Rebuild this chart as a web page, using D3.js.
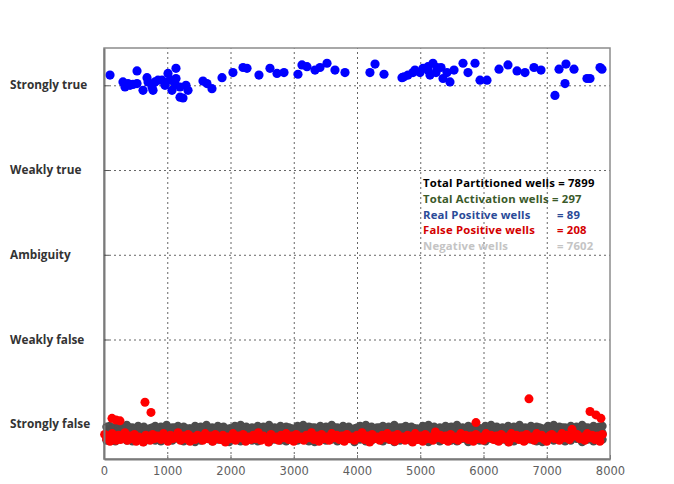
<!DOCTYPE html>
<html><head><meta charset="utf-8">
<script src="https://cdn.jsdelivr.net/npm/d3@7"></script>
<style>
body{margin:0;background:#fff;}
svg{display:block;}
</style></head>
<body>
<svg id="chart" width="674" height="484"></svg>
<script>
// ---- data ----
const levelLabels = ["Strongly false","Weakly false","Ambiguity","Weakly true","Strongly true"];
const levelValues = [0,1,2,3,4];
const xTicks = [0,1000,2000,3000,4000,5000,6000,7000,8000];

const legendLines = [
  ["Total Partitioned wells = 7899", null, "#000000"],
  ["Total Activation wells = 297", null, "#3b5a2a"],
  ["Real Positive wells", "= 89", "#2a4b98"],
  ["False Positive wells", "= 208", "#d40000"],
  ["Negative wells", "= 7602", "#c4c4c4"]
];

// Real positive wells (blue): well index, score
const posX = [95,300,332,379,411,458,522,522,617,680,696,759,775,806,854,917,964,1012,1043,1075,1138,1138,1122,1202,1202,1249,1296,1328,1565,1628,1707,1866,2039,2198,2261,2450,2624,2735,2846,3067,3130,3209,3336,3415,3526,3652,3810,4205,4285,4427,4711,4743,4806,4885,4917,4996,5044,5122,5122,5154,5201,5249,5265,5328,5360,5423,5470,5534,5676,5755,5866,5945,6055,6245,6387,6530,6656,6798,6909,7130,7194,7304,7289,7431,7636,7684,7842,7873];
const posY = [4.12,4.04,3.98,4.02,4.00,4.01,4.02,4.17,3.94,4.09,4.04,3.98,3.94,4.04,4.06,4.06,4.00,4.14,4.06,3.94,4.20,4.08,4.02,3.98,3.86,3.85,4.00,3.94,4.05,4.02,3.96,4.09,4.15,4.21,4.20,4.12,4.20,4.14,4.15,4.13,4.24,4.22,4.18,4.21,4.26,4.18,4.15,4.15,4.25,4.13,4.09,4.10,4.12,4.15,4.18,4.15,4.20,4.18,4.22,4.12,4.26,4.15,4.21,4.21,4.08,4.15,4.04,4.18,4.26,4.15,4.26,4.06,4.06,4.19,4.24,4.17,4.15,4.21,4.18,3.88,4.19,4.25,4.02,4.19,4.08,4.08,4.21,4.19];

// False positive wells (red): "well,score"
const falsePos = ("126,.07 190,.05 253,.04 648,.26 743,.14 5881,.02 6719,.30 7684,.15 7778,.11 7857,.07 " +
"10,-.12 40,-.17 70,-.14 95,-.20 130,-.11 160,-.16 190,-.19 230,-.13 260,-.18 300,-.15 330,-.10 370,-.19 400,-.14 440,-.17 480,-.12 510,-.20 550,-.15 590,-.18 620,-.21 660,-.13 700,-.16 730,-.19 770,-.12 800,-.17 850,-.14 900,-.18 940,-.11 980,-.16 1010,-.20 1050,-.13 1090,-.17 1130,-.15 1170,-.10 1210,-.19 1250,-.14 1290,-.17 1330,-.12 1360,-.20 1400,-.15 1440,-.18 1480,-.13 1520,-.16 1560,-.19 1600,-.11 1640,-.17 1680,-.14 1720,-.20 1760,-.12 1800,-.16 1840,-.18 1880,-.13 1920,-.21 1960,-.15 2000,-.17 2040,-.11 2080,-.19 2120,-.14 2160,-.16 2200,-.12 2240,-.20 2280,-.15 2320,-.18 2360,-.13 2400,-.17 2440,-.10 2480,-.19 2520,-.14 2560,-.16 2600,-.21 2640,-.12 2680,-.17 2720,-.15 2760,-.19 2800,-.13 2840,-.16 2880,-.11 2920,-.18 2960,-.14 3000,-.20 3040,-.12 3080,-.17 3120,-.15 3160,-.19 3200,-.13 3240,-.16 3280,-.10 3320,-.18 3360,-.14 3400,-.20 3440,-.12 3480,-.17 3520,-.15 3560,-.19 3600,-.11 3640,-.16 3680,-.13 3720,-.18 3760,-.14 3800,-.20 3840,-.12 3880,-.17 3920,-.15 3960,-.19 4000,-.13 4040,-.16 4080,-.10 4120,-.18 4160,-.14 4200,-.21 4240,-.12 4280,-.17 4320,-.15 4360,-.19 4400,-.13 4440,-.16 4480,-.11 4520,-.18 4560,-.14 4600,-.20 4640,-.12 4680,-.17 4720,-.15 4760,-.19 4800,-.13 4840,-.16 4880,-.21 4920,-.11 4960,-.18 5000,-.14 5040,-.20 5080,-.12 5120,-.17 5160,-.15 5200,-.19 5240,-.09 5280,-.16 5320,-.13 5360,-.18 5400,-.14 5440,-.20 5480,-.12 5520,-.17 5560,-.15 5600,-.19 5640,-.11 5680,-.16 5720,-.13 5760,-.18 5800,-.14 5840,-.20 5880,-.12 5920,-.17 5960,-.15 6000,-.19 6040,-.11 6080,-.16 6120,-.13 6160,-.18 6200,-.14 6240,-.20 6280,-.12 6320,-.17 6360,-.15 6400,-.21 6440,-.11 6480,-.16 6520,-.13 6560,-.18 6600,-.14 6640,-.20 6680,-.12 6720,-.17 6760,-.15 6800,-.19 6840,-.11 6880,-.16 6920,-.13 6960,-.18 7000,-.20 7040,-.14 7080,-.12 7120,-.17 7160,-.15 7200,-.19 7240,-.11 7280,-.16 7320,-.13 7360,-.18 7400,-.06 7440,-.14 7480,-.12 7520,-.17 7560,-.15 7600,-.19 7640,-.11 7680,-.16 7720,-.13 7760,-.18 7800,-.14 7840,-.20 7880,-.12")
  .split(" ").map(s => s.split(",").map(Number));

// Negative wells (gray) sampled: "well:score/score/score"
const negative = ("40:-.03/-.12/-.19 90:-.02/-.10/-.18 180:-.04/-.13/-.20 270:-.03/-.09/-.17 360:-.01/-.11/-.19 450:-.04/-.14/-.20 540:-.02/-.10/-.18 630:-.03/-.12/-.21 720:-.05/-.09/-.17 810:-.02/-.13/-.19 900:-.03/-.11/-.20 990:-.01/-.10/-.18 1080:-.04/-.14/-.19 1170:-.02/-.09/-.17 1260:-.03/-.12/-.20 1350:-.05/-.11/-.18 1440:-.02/-.13/-.21 1530:-.03/-.10/-.19 1620:-.01/-.12/-.17 1710:-.04/-.09/-.20 " +
"1800:-.02/-.11/-.18 1890:-.03/-.13/-.19 1980:-.05/-.10/-.21 2070:-.02/-.12/-.17 2160:-.01/-.09/-.20 2250:-.03/-.14/-.18 2340:-.04/-.11/-.19 2430:-.02/-.10/-.20 2520:-.03/-.12/-.17 2610:-.01/-.13/-.21 2700:-.04/-.09/-.18 2790:-.02/-.11/-.19 2880:-.03/-.14/-.20 2970:-.05/-.10/-.17 3060:-.02/-.12/-.19 3150:-.01/-.13/-.18 3240:-.03/-.09/-.20 3330:-.04/-.11/-.21 3420:-.02/-.12/-.17 3510:-.03/-.10/-.19 " +
"3600:-.01/-.14/-.18 3690:-.04/-.11/-.20 3780:-.02/-.09/-.19 3870:-.03/-.13/-.17 3960:-.05/-.10/-.21 4050:-.02/-.12/-.18 4140:-.01/-.11/-.20 4230:-.03/-.14/-.19 4320:-.04/-.09/-.17 4410:-.02/-.12/-.20 4500:-.03/-.10/-.18 4590:-.01/-.13/-.21 4680:-.04/-.11/-.19 4770:-.02/-.09/-.17 4860:-.03/-.12/-.20 4950:-.05/-.14/-.18 5040:-.02/-.10/-.19 5130:-.01/-.11/-.21 5220:-.03/-.13/-.17 5310:-.04/-.09/-.20 " +
"5400:-.02/-.12/-.18 5490:-.03/-.10/-.19 5580:-.01/-.14/-.20 5670:-.04/-.11/-.17 5760:-.02/-.09/-.21 5850:-.03/-.13/-.18 5940:-.05/-.10/-.19 6030:-.02/-.12/-.20 6120:-.01/-.11/-.17 6210:-.03/-.14/-.19 6300:-.04/-.09/-.18 6390:-.02/-.12/-.21 6480:-.03/-.10/-.20 6570:-.01/-.13/-.17 6660:-.04/-.11/-.19 6750:-.02/-.09/-.18 6840:-.03/-.12/-.20 6930:-.05/-.14/-.21 7020:-.02/-.10/-.17 7110:-.01/-.11/-.19 " +
"7200:-.03/-.13/-.18 7290:-.04/-.09/-.20 7380:-.02/-.12/-.19 7470:-.03/-.10/-.17 7560:-.01/-.14/-.21 7650:-.04/-.11/-.18 7740:-.02/-.09/-.20 7830:-.03/-.13/-.19 7880:-.02/-.11/-.18 " +
"135:-.06/-.15 225:-.05/-.08 315:-.07/-.16 405:-.04/-.07 495:-.06/-.16 585:-.05/-.08 675:-.07/-.15 765:-.04/-.07 855:-.06/-.16 945:-.05/-.08 1035:-.07/-.15 1125:-.04/-.08 1215:-.06/-.16 1305:-.05/-.07 1395:-.07/-.15 1485:-.04/-.08 1575:-.06/-.16 1665:-.05/-.07 1755:-.07/-.15 1845:-.04/-.08 " +
"1935:-.06/-.16 2025:-.05/-.07 2115:-.07/-.15 2205:-.04/-.08 2295:-.06/-.16 2385:-.05/-.07 2475:-.07/-.15 2565:-.04/-.08 2655:-.06/-.16 2745:-.05/-.07 2835:-.07/-.15 2925:-.04/-.08 3015:-.06/-.16 3105:-.05/-.07 3195:-.07/-.15 3285:-.04/-.08 3375:-.06/-.16 3465:-.05/-.07 3555:-.07/-.15 3645:-.04/-.08 " +
"3735:-.06/-.16 3825:-.05/-.07 3915:-.07/-.15 4005:-.04/-.08 4095:-.06/-.16 4185:-.05/-.07 4275:-.07/-.15 4365:-.04/-.08 4455:-.06/-.16 4545:-.05/-.07 4635:-.07/-.15 4725:-.04/-.08 4815:-.06/-.16 4905:-.05/-.07 4995:-.07/-.15 5085:-.04/-.08 5175:-.06/-.16 5265:-.05/-.07 5355:-.07/-.15 5445:-.04/-.08 " +
"5535:-.06/-.16 5625:-.05/-.07 5715:-.07/-.15 5805:-.04/-.08 5895:-.06/-.16 5985:-.05/-.07 6075:-.07/-.15 6165:-.04/-.08 6255:-.06/-.16 6345:-.05/-.07 6435:-.07/-.15 6525:-.04/-.08 6615:-.06/-.16 6705:-.05/-.07 6795:-.07/-.15 6885:-.04/-.08 6975:-.06/-.16 7065:-.05/-.07 7155:-.07/-.15 7245:-.04/-.08 " +
"7335:-.06/-.16 7425:-.05/-.07 7515:-.07/-.15 7605:-.04/-.08 7695:-.06/-.16 7785:-.05/-.07 7860:-.07/-.15")
  .split(" ").flatMap(s => { const [w, ys] = s.split(":"); return ys.split("/").map(v => [+w, +v]); });

// ---- layout ----
const svg = d3.select("#chart");
const pL = 104, pR = 610, pT = 48, pB = 459;
const x = d3.scaleLinear().domain([0, 8000]).range([pL, pR]);
const y = d3.scaleLinear().domain([-0.41, 4.44]).range([pB, pT]);
const fontSans = "'Open Sans', Lato, sans-serif";

// gridlines
svg.append("g").attr("transform", `translate(0,${pB})`)
  .call(d3.axisBottom(x).tickValues(xTicks.slice(1, -1)).tickSize(-(pB - pT)).tickFormat(""))
  .call(g => g.select(".domain").remove())
  .call(g => g.selectAll("line").attr("stroke", "#666").attr("stroke-width", 1).attr("stroke-dasharray", "2,3"));
svg.append("g").attr("transform", `translate(${pL},0)`)
  .call(d3.axisLeft(y).tickValues(levelValues).tickSize(-(pR - pL)).tickFormat(""))
  .call(g => g.select(".domain").remove())
  .call(g => g.selectAll("line").attr("stroke", "#666").attr("stroke-width", 1).attr("stroke-dasharray", "2,3"));

// frame
svg.append("rect").attr("x", pL).attr("y", pT).attr("width", pR - pL).attr("height", pB - pT)
  .attr("fill", "none").attr("stroke", "#8c8c8c").attr("stroke-width", 1.5);

// points
const pts = svg.append("g");
pts.selectAll("circle.neg").data(negative).join("circle").attr("class", "neg")
  .attr("cx", d => x(d[0])).attr("cy", d => y(d[1])).attr("r", 4.3).attr("fill", "#4d4d4d");
pts.selectAll("circle.fp").data(falsePos).join("circle").attr("class", "fp")
  .attr("cx", d => x(d[0])).attr("cy", d => y(d[1])).attr("r", 4.5).attr("fill", "#ff0000");
pts.selectAll("circle.rp").data(posX.map((v, i) => [v, posY[i]])).join("circle").attr("class", "rp")
  .attr("cx", d => x(d[0])).attr("cy", d => y(d[1])).attr("r", 4.6).attr("fill", "#0000ff");

// axes lines (left & bottom darker)
svg.append("g").attr("transform", `translate(0,${pB})`)
  .call(d3.axisBottom(x).tickValues(xTicks).tickFormat(d3.format("d")).tickSizeInner(-4).tickSizeOuter(0).tickPadding(8))
  .call(g => g.select(".domain").attr("stroke", "#7a7a7a").attr("stroke-width", 2))
  .call(g => g.selectAll("line").attr("stroke", "#7a7a7a"))
  .call(g => g.selectAll("text").attr("fill", "#5e5e5e").attr("font-family", "'DejaVu Sans', sans-serif").attr("font-size", 11.5));

svg.append("g").attr("transform", `translate(${pL},0)`)
  .call(d3.axisLeft(y).tickValues(levelValues).tickFormat(i => levelLabels[i]).tickSizeInner(-5).tickSizeOuter(0).tickPadding(0))
  .call(g => g.select(".domain").attr("stroke", "#7a7a7a").attr("stroke-width", 2))
  .call(g => g.selectAll("line").attr("stroke", "#555"))
  .call(g => g.selectAll("text").attr("x", 10 - pL).attr("dy", "0.3em").attr("text-anchor", "start")
    .attr("fill", "#333").attr("font-family", fontSans).attr("font-weight", "bold").attr("font-size", 11.8));

// legend
const leg = svg.append("g").attr("font-family", fontSans).attr("font-weight", "bold")
  .attr("font-size", 11.3).attr("letter-spacing", 0.2);
legendLines.forEach((l, i) => {
  const yy = 187 + i * 15.8;
  leg.append("text").attr("x", 423).attr("y", yy).attr("fill", l[2]).text(l[0]);
  if (l[1]) leg.append("text").attr("x", 557).attr("y", yy).attr("fill", l[2]).text(l[1]);
});
</script>
</body></html>
